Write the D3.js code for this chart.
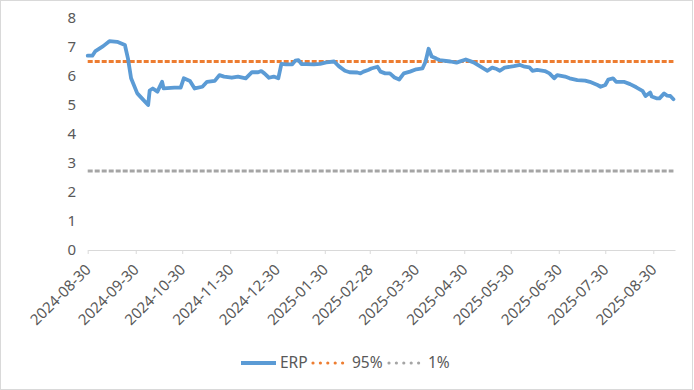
<!DOCTYPE html>
<html lang="zh-CN">
<head>
  <meta charset="UTF-8">
  <title>ERP</title>
  <script src="https://d3js.org/d3.v7.min.js"></script>
  <style>
    body { margin: 0; background: #fff; font-family: "Noto Sans", sans-serif; }
    svg { display: block; }
  </style>
</head>
<body>
  <script>
    // ERP 序列（日期, 数值）
    const dates = [
      "2024-08-30","2024-09-02","2024-09-04","2024-09-09","2024-09-13","2024-09-18","2024-09-23","2024-09-25","2024-09-27",
      "2024-10-01","2024-10-04","2024-10-08","2024-10-09","2024-10-11","2024-10-14","2024-10-17","2024-10-18","2024-10-25",
      "2024-10-29","2024-10-31","2024-11-04","2024-11-07","2024-11-12","2024-11-15","2024-11-20","2024-11-23","2024-11-26",
      "2024-12-01","2024-12-05","2024-12-10","2024-12-14","2024-12-18","2024-12-20","2024-12-22","2024-12-25","2024-12-28",
      "2024-12-31","2025-01-02","2025-01-05","2025-01-09","2025-01-11","2025-01-13","2025-01-15","2025-01-18","2025-01-23",
      "2025-01-27","2025-01-31","2025-02-05","2025-02-08","2025-02-12","2025-02-15","2025-02-20","2025-02-22","2025-02-24",
      "2025-02-27","2025-03-01","2025-03-05","2025-03-07","2025-03-10","2025-03-13","2025-03-16","2025-03-19","2025-03-22",
      "2025-03-26","2025-03-30","2025-04-03","2025-04-05","2025-04-07","2025-04-09","2025-04-12","2025-04-14","2025-04-21",
      "2025-04-25","2025-05-01","2025-05-06","2025-05-10","2025-05-15","2025-05-18","2025-05-21","2025-05-23","2025-05-26",
      "2025-06-01","2025-06-05","2025-06-08","2025-06-11","2025-06-13","2025-06-16","2025-06-21","2025-06-24","2025-06-27",
      "2025-06-29","2025-07-04","2025-07-07","2025-07-12","2025-07-17","2025-07-20","2025-07-25","2025-07-27","2025-07-30",
      "2025-08-01","2025-08-04","2025-08-06","2025-08-11","2025-08-15","2025-08-19","2025-08-23","2025-08-25","2025-08-28",
      "2025-08-29","2025-09-01","2025-09-03","2025-09-06","2025-09-08","2025-09-10","2025-09-12"
    ];
    const erp = [
      6.70,6.70,6.86,7.03,7.20,7.18,7.07,6.60,5.92,
      5.40,5.23,5.00,5.50,5.57,5.46,5.80,5.57,5.60,
      5.60,5.92,5.83,5.57,5.63,5.80,5.83,6.03,5.98,
      5.94,5.98,5.92,6.13,6.13,6.17,6.09,5.94,5.98,
      5.92,6.42,6.40,6.40,6.53,6.55,6.41,6.41,6.40,
      6.42,6.47,6.50,6.34,6.18,6.13,6.12,6.09,6.15,
      6.21,6.26,6.32,6.15,6.09,6.09,5.95,5.88,6.09,
      6.15,6.23,6.26,6.49,6.94,6.67,6.60,6.55,6.50,
      6.46,6.57,6.47,6.34,6.18,6.29,6.24,6.18,6.29,
      6.34,6.38,6.32,6.30,6.18,6.21,6.17,6.09,5.92,
      6.03,5.98,5.92,5.86,5.84,5.80,5.69,5.63,5.69,
      5.88,5.92,5.80,5.80,5.72,5.61,5.49,5.31,5.43,
      5.29,5.23,5.23,5.40,5.32,5.31,5.20
    ];
    const p95 = 6.50;
    const p01 = 2.72;

    const tickLabels = ["2024-08-30","2024-09-30","2024-10-30","2024-11-30","2024-12-30","2025-01-30",
      "2025-02-28","2025-03-30","2025-04-30","2025-05-30","2025-06-30","2025-07-30","2025-08-30"];
    const yTicks = [0, 1, 2, 3, 4, 5, 6, 7, 8];
    const axisEnd = "2025-09-13";

    const W = 694, H = 390;
    const parse = d3.utcParse("%Y-%m-%d");
    const series = dates.map((d, i) => ({ date: parse(d), v: erp[i] }));

    const svg = d3.select("body").append("svg").attr("width", W).attr("height", H);

    svg.append("rect")
      .attr("x", 0.5).attr("y", 0.5).attr("width", 692).attr("height", 389)
      .attr("fill", "#fff").attr("stroke", "#d9d9d9");

    const x = d3.scaleUtc().domain([parse(dates[0]), parse(axisEnd)]).range([87.7, 675]);
    const y = d3.scaleLinear().domain([0, 8]).range([250, 18]);

    // y 轴标签
    svg.append("g").selectAll("text")
      .data(yTicks).enter().append("text")
      .attr("x", 76).attr("y", d => y(d)).attr("dy", "0.35em")
      .attr("text-anchor", "end").attr("font-size", 15).attr("fill", "#595959")
      .text(d => d);

    // x 轴
    const xAxis = svg.append("g").attr("transform", "translate(0,250)")
      .call(d3.axisBottom(x).tickValues(tickLabels.map(parse)).tickSize(4).tickSizeOuter(0).tickFormat(""));
    xAxis.select(".domain").attr("stroke", "#d9d9d9");
    xAxis.selectAll(".tick line").attr("stroke", "#d9d9d9");

    svg.append("g").selectAll("text")
      .data(tickLabels).enter().append("text")
      .attr("transform", d => `translate(${x(parse(d)) + 0.5},267) rotate(-45)`)
      .attr("dy", "0.35em").attr("text-anchor", "end")
      .attr("font-size", 15).attr("fill", "#595959")
      .text(d => d);

    // 参考线
    const first = parse(dates[0]), last = parse(dates[dates.length - 1]);
    svg.append("line")
      .attr("x1", x(first)).attr("x2", x(last)).attr("y1", y(p01)).attr("y2", y(p01))
      .attr("stroke", "#a5a5a5").attr("stroke-width", 3).attr("stroke-dasharray", "5,2");
    svg.append("line")
      .attr("x1", x(first)).attr("x2", x(last)).attr("y1", y(p95)).attr("y2", y(p95))
      .attr("stroke", "#ed7d31").attr("stroke-width", 3).attr("stroke-dasharray", "5,2");

    const line = d3.line().x(d => x(d.date)).y(d => y(d.v));
    svg.append("path").datum(series)
      .attr("d", line).attr("fill", "none")
      .attr("stroke", "#5b9bd5").attr("stroke-width", 3.8)
      .attr("stroke-linejoin", "round").attr("stroke-linecap", "round");

    // 图例
    const lg = svg.append("g").attr("transform", "translate(0,363)");
    const items = [
      { name: "ERP", color: "#5b9bd5", x0: 241, x1: 276, tx: 280, dash: null },
      { name: "95%", color: "#ed7d31", x0: 313, x1: 346, tx: 352, dash: "0,7.4" },
      { name: "1%", color: "#a5a5a5", x0: 389, x1: 422, tx: 428, dash: "0,7.4" }
    ];
    items.forEach(it => {
      lg.append("line").attr("x1", it.x0).attr("x2", it.x1)
        .attr("stroke", it.color)
        .attr("stroke-width", it.dash ? 3.2 : 4)
        .attr("stroke-linecap", it.dash ? "round" : "butt")
        .attr("stroke-dasharray", it.dash);
      lg.append("text").attr("x", it.tx).attr("dy", "0.35em")
        .attr("font-size", 15.5).attr("fill", "#595959").text(it.name);
    });
  </script>
</body>
</html>
